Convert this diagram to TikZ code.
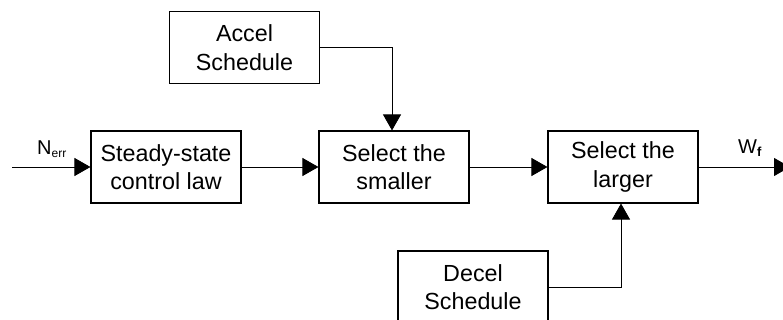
\documentclass[tikz,border=0pt]{standalone}
\usepackage{fontspec}
\setmainfont{Liberation Sans}
\usetikzlibrary{arrows.meta}
\begin{document}
\begin{tikzpicture}[x=1pt,y=-1pt,
  blk/.style={draw, line width=1.1pt, minimum width=150pt, minimum height=72pt,
    align=center, inner sep=0pt, font=\fontsize{23.3}{28.5}\selectfont},
  sig/.style={line width=0.8pt, -{Triangle[length=16pt,width=18pt]}},
  lbl/.style={font=\fontsize{20}{22}\selectfont, inner sep=0pt}]
\useasboundingbox (0,0) rectangle (783,320);
\clip (0,0) rectangle (783,320);
% blocks
\node[blk] (ss) at (166,167) {Steady-state\\control law};
\node[blk] (sm) at (394,167) {Select the\\smaller};
\node[blk] (lg) at (623,167) {Select the\\larger};
\node[blk] (ac) at (244.5,47.5) {Accel\\Schedule};
\node[blk] (dc) at (473,287) {Decel\\Schedule};
% free ends
\coordinate (in) at (12,167);
\coordinate (out) at (790,167);
% signal path
\draw[sig] (in) -- (ss.west);
\draw[sig] (ss.east) -- (sm.west);
\draw[sig] (sm.east) -- (lg.west);
\draw[sig] (lg.east) -- (out);
\draw[sig] (ac.east) -| ([xshift=-2pt]sm.north);
\draw[sig] (dc.east) -| ([xshift=-2pt]lg.south);
% labels
\node[lbl] (nerr) at (52,149) {N\textsubscript{\fontsize{12}{12}\selectfont err}};
\node[lbl] (wf) at (750,148) {W\textsubscript{\fontsize{13}{13}\selectfont\bfseries f}};
\end{tikzpicture}
\end{document}
